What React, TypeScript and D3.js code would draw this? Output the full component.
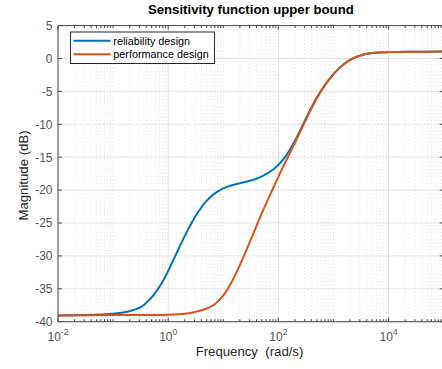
import React from "react";
import * as d3 from "d3";

const title = "Sensitivity function upper bound";
const xLabel = "Frequency  (rad/s)";
const yLabel = "Magnitude (dB)";
const seriesNames = ["reliability design", "performance design"];
const seriesColors = ["#0072BD", "#D95319"];

// frequency given as log10(rad/s)
const reliabilityLogFreq = [-2, -1.5, -1.0, -0.75, -0.5, -0.3, -0.1, 0.1, 0.3, 0.5, 0.7, 0.9, 1.1, 1.3, 1.5, 1.7, 1.9, 2.1, 2.3, 2.5, 2.7, 2.9, 3.1, 3.3, 3.5, 3.75, 4.0, 4.5, 5.0];
const reliabilityMag = [-39.05, -39.0, -38.8, -38.5, -37.8, -36.3, -33.9, -30.5, -27.0, -23.9, -21.6, -20.2, -19.4, -18.95, -18.55, -17.9, -16.9, -15.2, -12.5, -9.1, -5.9, -3.4, -1.5, -0.2, 0.5, 0.86, 0.97, 1.03, 1.05];

const performanceLogFreq = [-2, -1, 0, 0.3, 0.5, 0.7, 0.85, 1.0, 1.15, 1.3, 1.5, 1.7, 1.9, 2.1, 2.3, 2.5, 2.7, 2.9, 3.1, 3.3, 3.5, 3.75, 4.0, 4.5, 5.0];
const performanceMag = [-39.05, -39.0, -38.95, -38.8, -38.5, -38.0, -37.3, -36.0, -34.0, -31.4, -27.5, -23.5, -19.8, -16.2, -12.8, -9.3, -6.0, -3.4, -1.5, -0.2, 0.5, 0.86, 0.97, 1.03, 1.05];

const yTicks = [-40, -35, -30, -25, -20, -15, -10, -5, 0, 5];
const xMajorExp = [-2, 0, 2, 4];

const W = 442, H = 369;
const left = 58, right = 443.7, top = 25.6, bottom = 321.7;

export default function App() {
  const x = d3.scaleLog().domain([1e-2, 1e5]).range([left, right]);
  const y = d3.scaleLinear().domain([-40, 5]).range([bottom, top]);

  const line = d3
    .line<[number, number]>()
    .x((d) => x(Math.pow(10, d[0])))
    .y((d) => y(d[1]))
    .curve(d3.curveCatmullRom.alpha(0.5));

  const series = [
    reliabilityLogFreq.map((f, i) => [f, reliabilityMag[i]] as [number, number]),
    performanceLogFreq.map((f, i) => [f, performanceMag[i]] as [number, number]),
  ];

  const minorX: number[] = [];
  for (let e = -2; e < 5; e++) {
    for (let k = 1; k <= 9; k++) {
      const v = k * Math.pow(10, e);
      if (k === 1 && xMajorExp.includes(e)) continue;
      minorX.push(v);
    }
  }

  const axisColor = "#4a4a4a";
  const tickText = "#555";
  const font = "'Liberation Sans', Arial, Helvetica, sans-serif";

  return (
    <svg width={W} height={H} style={{ position: "absolute", left: 0, top: 0, background: "#fff" }} fontFamily={font}>
      <defs>
        <clipPath id="plotclip">
          <rect x={left} y={top} width={right - left} height={bottom - top} />
        </clipPath>
      </defs>
      <rect x={left} y={top} width={right - left} height={bottom - top} fill="#fff" />
      {/* minor grid */}
      {minorX.map((v, i) => (
        <line key={"mg" + i} x1={x(v)} x2={x(v)} y1={top} y2={bottom} stroke="#d6d6d6" strokeWidth={0.8} strokeDasharray="1 2.5" />
      ))}
      {/* major grid */}
      {xMajorExp.map((e) => (
        <line key={"gx" + e} x1={x(Math.pow(10, e))} x2={x(Math.pow(10, e))} y1={top} y2={bottom} stroke="#e3e3e3" strokeWidth={1} />
      ))}
      {yTicks.map((t) => (
        <line key={"gy" + t} x1={left} x2={right} y1={y(t)} y2={y(t)} stroke="#e3e3e3" strokeWidth={1} />
      ))}
      {/* curves */}
      <g clipPath="url(#plotclip)">
        {series.map((s, i) => (
          <path key={"s" + i} d={line(s) || ""} fill="none" stroke={seriesColors[i]} strokeWidth={2} strokeLinejoin="round" />
        ))}
      </g>
      {/* axes box */}
      <line x1={left} x2={right} y1={bottom} y2={bottom} stroke={axisColor} strokeWidth={1} />
      <line x1={left} x2={right} y1={top} y2={top} stroke={axisColor} strokeWidth={1} />
      <line x1={left} x2={left} y1={top} y2={bottom} stroke={axisColor} strokeWidth={1} />
      <line x1={right} x2={right} y1={top} y2={bottom} stroke={axisColor} strokeWidth={1} />
      {/* x ticks */}
      {minorX.map((v, i) => (
        <g key={"mt" + i}>
          <line x1={x(v)} x2={x(v)} y1={bottom} y2={bottom - 2.5} stroke={axisColor} strokeWidth={1} />
          <line x1={x(v)} x2={x(v)} y1={top} y2={top + 2.5} stroke={axisColor} strokeWidth={1} />
        </g>
      ))}
      {xMajorExp.map((e) => (
        <g key={"xt" + e}>
          <line x1={x(Math.pow(10, e))} x2={x(Math.pow(10, e))} y1={bottom} y2={bottom - 4} stroke={axisColor} strokeWidth={1} />
          <line x1={x(Math.pow(10, e))} x2={x(Math.pow(10, e))} y1={top} y2={top + 4} stroke={axisColor} strokeWidth={1} />
          <text x={x(Math.pow(10, e))} y={340.7} fontSize={12} fill={tickText} textAnchor="middle">
            10
            <tspan dy={-5.7} fontSize={8.6}>{String(e)}</tspan>
          </text>
        </g>
      ))}
      {/* y ticks */}
      {yTicks.map((t) => (
        <g key={"yt" + t}>
          <line x1={left} x2={left + 4} y1={y(t)} y2={y(t)} stroke={axisColor} strokeWidth={1} />
          <line x1={right} x2={right - 4} y1={y(t)} y2={y(t)} stroke={axisColor} strokeWidth={1} />
          <text x={52.5} y={y(t) + 4.3} fontSize={12} fill={tickText} textAnchor="end">
            {t}
          </text>
        </g>
      ))}
      {/* labels */}
      <text x={(left + right) / 2} y={14} fontSize={13.2} fontWeight="bold" fill="#000" textAnchor="middle">
        {title}
      </text>
      <text x={249.5} y={356} fontSize={13.2} fill="#262626" textAnchor="middle" xmlSpace="preserve">
        {xLabel}
      </text>
      <text transform={`translate(28,175.5) rotate(-90)`} fontSize={13.2} fill="#262626" textAnchor="middle">
        {yLabel}
      </text>
      {/* legend */}
      <rect x={70.5} y={32} width={144} height={31.5} fill="#fff" stroke="#262626" strokeWidth={1} />
      {seriesNames.map((n, i) => (
        <g key={"lg" + i}>
          <line x1={73.5} x2={110.5} y1={40.7 + i * 13.6} y2={40.7 + i * 13.6} stroke={seriesColors[i]} strokeWidth={2} />
          <text x={113.3} y={44.6 + i * 13.6} fontSize={10.8} fill="#000">
            {n}
          </text>
        </g>
      ))}
    </svg>
  );
}
